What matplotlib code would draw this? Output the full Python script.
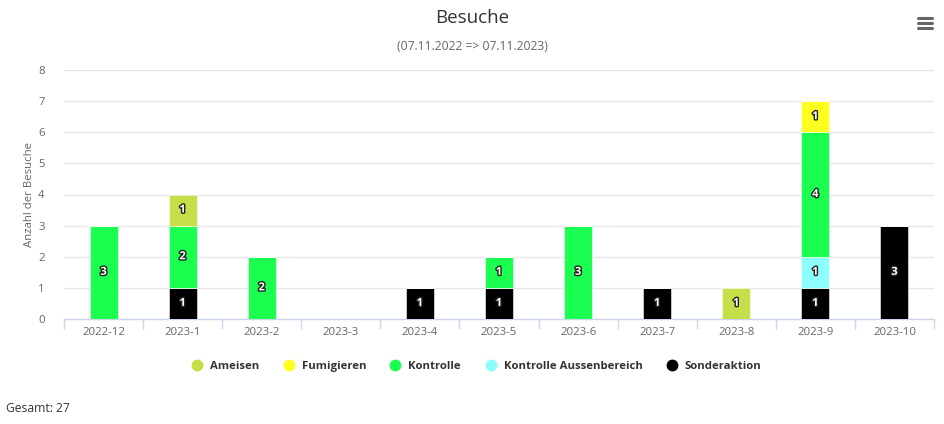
import matplotlib
matplotlib.use("Agg")
import matplotlib.pyplot as plt
import matplotlib.patheffects as pe
from matplotlib.lines import Line2D
import numpy as np

plt.rcParams['font.family'] = ['Open Sans', 'DejaVu Sans']

categories = ["2022-12", "2023-1", "2023-2", "2023-3", "2023-4", "2023-5",
              "2023-6", "2023-7", "2023-8", "2023-9", "2023-10"]
series_names = ["Ameisen", "Fumigieren", "Kontrolle", "Kontrolle Aussenbereich", "Sonderaktion"]
ameisen      = [0, 1, 0, 0, 0, 0, 0, 0, 1, 0, 0]
fumigieren   = [0, 0, 0, 0, 0, 0, 0, 0, 0, 1, 0]
kontrolle    = [3, 2, 2, 0, 0, 1, 3, 0, 0, 4, 0]
aussen       = [0, 0, 0, 0, 0, 0, 0, 0, 0, 1, 0]
sonderaktion = [0, 1, 0, 0, 1, 1, 0, 1, 0, 1, 3]
colors = ["#c5df48", "#ffff1f", "#1aff50", "#8cffff", "#000000"]
title = "Besuche"
subtitle = "(07.11.2022 => 07.11.2023)"
y_label = "Anzahl der Besuche"
total_text = "Gesamt: 27"

W, H = 945, 424
fig = plt.figure(figsize=(W / 100, H / 100), dpi=100)
ax = fig.add_axes([64 / W, (H - 319) / H, (934 - 64) / W, (319 - 70) / H])

x = np.arange(len(categories))
# stack from bottom: last series at bottom (Highcharts order)
stack_order = [sonderaktion, aussen, kontrolle, fumigieren, ameisen]
stack_colors = [colors[4], colors[3], colors[2], colors[1], colors[0]]
bottom = np.zeros(len(categories))
bw = 28 / 79.1
for vals, col in zip(stack_order, stack_colors):
    v = np.array(vals, dtype=float)
    ax.bar(x, v, bottom=bottom, width=bw, color=col, edgecolor='white',
           linewidth=0.4, zorder=3)
    for xi, vi, bi in zip(x, v, bottom):
        if vi > 0:
            ax.text(xi, bi + vi / 2, f"{int(vi)}", ha='center', va='center',
                    color='white', fontsize=8, fontweight='bold', zorder=5,
                    path_effects=[pe.withStroke(linewidth=2, foreground='#222222')])
    bottom += v

ax.set_xlim(-0.5, len(categories) - 0.5)
ax.set_ylim(0, 8)
ax.set_yticks(range(0, 9))
ax.yaxis.grid(True, color='#e6e6e6', linewidth=1, zorder=0)
ax.set_axisbelow(True)
for s in ['top', 'right', 'left']:
    ax.spines[s].set_visible(False)
ax.spines['bottom'].set_color('#ccd6eb')
ax.spines['bottom'].set_linewidth(1)

ax.set_xticks(x)
ax.set_xticklabels(categories, color='#666666', fontsize=8.2)
ax.tick_params(axis='x', length=0, pad=6)
ax.set_xticks(np.arange(-0.5, len(categories), 1), minor=True)
ax.tick_params(axis='x', which='minor', length=7, color='#ccd6eb', width=1)
ax.tick_params(axis='y', length=0, labelcolor='#666666', labelsize=8.2, pad=14)
ax.set_ylabel(y_label, color='#666666', fontsize=8.2, labelpad=2)

fig.text(0.5, 1 - 18 / H, title, ha='center', va='center', fontsize=13.5, color='#333333')
fig.text(0.5, 1 - 47 / H, subtitle, ha='center', va='center', fontsize=8.7, color='#666666')
fig.text(6 / W, 1 - 409 / H, total_text, ha='left', va='center', fontsize=8.7, color='#333333')

# hamburger menu icon
for yy in [18, 23, 28]:
    fig.add_artist(Line2D([918 / W, 932 / W], [1 - yy / H, 1 - yy / H],
                          color='#666666', linewidth=2.2, solid_capstyle='round'))

# legend laid out like the Highcharts legend
legend_marker_x = [197, 289, 395, 491, 672]
legend_y = 1 - 365 / H
for name, col, mx in zip(series_names, colors, legend_marker_x):
    fig.add_artist(Line2D([mx / W], [legend_y], marker='o', linestyle='',
                          markersize=7.5, markerfacecolor=col, markeredgecolor=col))
    fig.text((mx + 13) / W, legend_y, name, ha='left', va='center_baseline', fontsize=8.2,
             fontweight='bold', color='#333333')

fig.savefig("out.png", dpi=100)
